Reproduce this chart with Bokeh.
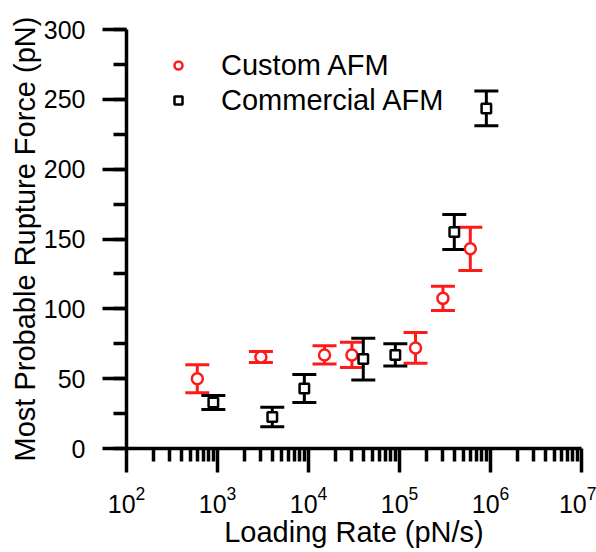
from bokeh.plotting import figure
from bokeh.models import (ColumnDataSource, Whisker, TeeHead, FixedTicker,
                          SingleIntervalTicker, Legend, LegendItem, Range1d)
from bokeh.embed import file_html
from bokeh.resources import INLINE

# ---- data ----
custom_x = [600, 3000, 15000, 30000, 150000, 300000, 600000]
custom_y = [50, 65.5, 67, 67, 72, 107.5, 143]
custom_err = [10, 4, 6.5, 9, 11, 8.7, 15.5]

commercial_x = [900, 4000, 9000, 40000, 90000, 400000, 900000]
commercial_y = [33, 22.5, 43, 64, 67, 155, 243.5]
commercial_err = [5, 7, 10, 15, 8, 12.5, 12.5]

x_major = [1e2, 1e3, 1e4, 1e5, 1e6, 1e7]
y_major_step = 50

FONT = "Liberation Sans"
RED = "#ff1a1a"

p = figure(width=596, height=552, x_axis_type="log",
           x_range=Range1d(1e2, 1e7), y_range=Range1d(0, 300),
           output_backend="svg", toolbar_location=None,
           min_border_left=126, min_border_right=15,
           min_border_top=29, min_border_bottom=104)
p.outline_line_color = None
p.grid.visible = False
p.background_fill_color = "white"

minor = [m * d for d in x_major[:-1] for m in range(2, 10)]
p.xaxis.ticker = FixedTicker(ticks=x_major, minor_ticks=minor)
p.yaxis.ticker = SingleIntervalTicker(interval=y_major_step, num_minor_ticks=2)

for ax in (p.xaxis, p.yaxis):
    ax.axis_line_width = 3.5
    ax.axis_line_color = "black"
    ax.major_tick_line_width = 3.5
    ax.minor_tick_line_width = 3.5
    ax.major_tick_line_color = "black"
    ax.minor_tick_line_color = "black"
    ax.major_tick_out = 24
    ax.major_tick_in = 0
    ax.minor_tick_out = 13
    ax.minor_tick_in = 0
    ax.major_label_text_font = FONT
    ax.major_label_text_font_size = "25px"
    ax.major_label_text_color = "black"
    ax.axis_label_text_font = FONT
    ax.axis_label_text_font_size = "29px"
    ax.axis_label_text_font_style = "normal"
    ax.axis_label_text_color = "black"

p.xaxis.axis_label = "Loading Rate (pN/s)"
p.yaxis.axis_label = "Most Probable Rupture Force (pN)"
p.xaxis.major_label_standoff = 13
p.yaxis.major_label_standoff = 17
p.xaxis.axis_label_standoff = 0
p.yaxis.axis_label_standoff = 0

def add_series(xs, ys, errs, color, marker, size):
    src = ColumnDataSource(dict(x=xs, y=ys,
                                upper=[y + e for y, e in zip(ys, errs)],
                                lower=[y - e for y, e in zip(ys, errs)]))
    w = Whisker(base="x", upper="upper", lower="lower", source=src,
                line_color=color, line_width=3,
                upper_head=TeeHead(size=24, line_color=color, line_width=3),
                lower_head=TeeHead(size=24, line_color=color, line_width=3))
    p.add_layout(w)
    r = p.scatter("x", "y", source=src, marker=marker, size=size,
                  fill_color="white", line_color=color, line_width=2.5)
    return r

r1 = add_series(custom_x, custom_y, custom_err, RED, "circle", 11)
r2 = add_series(commercial_x, commercial_y, commercial_err, "black", "square", 9.5)

legend = Legend(items=[LegendItem(label="Custom AFM", renderers=[r1]),
                       LegendItem(label="Commercial AFM", renderers=[r2])],
                location=(42, 331), padding=0, margin=0, spacing=1,
                glyph_width=20, glyph_height=34, label_height=34,
                label_standoff=33, border_line_color=None,
                background_fill_alpha=0,
                label_text_font=FONT, label_text_font_size="29px",
                label_text_color="black")
p.add_layout(legend)

open("out.html", "w").write(file_html(p, INLINE))
